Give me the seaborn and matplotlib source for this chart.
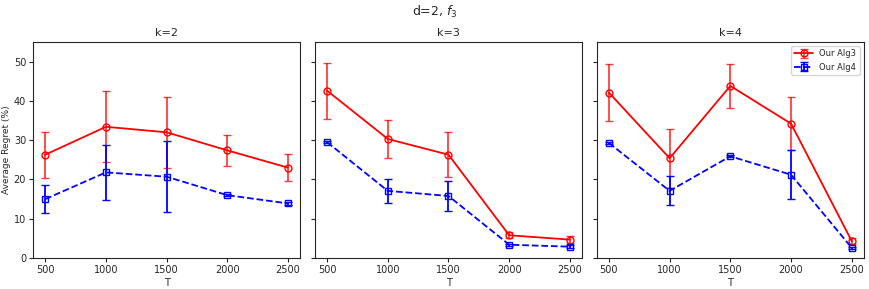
import numpy as np
import pandas as pd
import matplotlib
matplotlib.use("Agg")
import matplotlib.pyplot as plt
import seaborn as sns

# ==========================================
# Data
# ==========================================

T = [500, 1000, 1500, 2000, 2500]
panels = ["k=2", "k=3", "k=4"]

alg3_mean = [
    [26.3, 33.4, 32.0, 27.4, 23.0],
    [42.6, 30.3, 26.3, 5.8, 4.7],
    [42.1, 25.4, 43.8, 34.2, 4.3],
]
alg3_err = [
    [5.8, 9.0, 9.0, 4.0, 3.5],
    [7.1, 4.8, 5.7, 0.8, 0.8],
    [7.2, 7.5, 5.5, 6.8, 0.8],
]
alg4_mean = [
    [15.0, 21.8, 20.7, 16.0, 13.9],
    [29.5, 17.1, 15.8, 3.4, 2.9],
    [29.3, 17.1, 25.9, 21.2, 2.6],
]
alg4_err = [
    [3.6, 7.0, 9.1, 0.3, 0.3],
    [0.3, 3.0, 3.9, 0.3, 0.3],
    [0.3, 3.7, 0.3, 6.2, 0.3],
]

# ==========================================
# Plot
# ==========================================

sns.set_style("ticks")
plt.rcParams["font.family"] = ["DejaVu Sans"]
plt.rcParams["xtick.labelsize"] = 7
plt.rcParams["ytick.labelsize"] = 7

fig, axes = plt.subplots(1, 3, figsize=(8.7, 2.89), dpi=100, sharey=True)

for i, ax in enumerate(axes):
    ax.errorbar(
        T, alg3_mean[i], yerr=alg3_err[i],
        fmt="-o", color="red", fillstyle="none",
        markersize=5, linewidth=1.3, capsize=3,
        elinewidth=1.3, ecolor=(1, 0, 0, 0.75),
        label="Our Alg3"
    )
    ax.errorbar(
        T, alg4_mean[i], yerr=alg4_err[i],
        fmt="--s", color="blue", fillstyle="none",
        markersize=5, linewidth=1.3, capsize=3,
        elinewidth=1.3,
        label="Our Alg4"
    )
    ax.set_title(panels[i], fontsize=8, pad=4)
    ax.set_xlabel("T", fontsize=7, labelpad=2)
    ax.set_xticks(T)
    ax.set_xlim(400, 2600)
    ax.tick_params(length=3, pad=2)

axes[0].set_ylim(0, 55)
axes[0].set_yticks([0, 10, 20, 30, 40, 50])
axes[0].set_ylabel("Average Regret (%)", fontsize=6.5, labelpad=2)
axes[2].legend(loc="upper right", fontsize=6, handlelength=2.2)

fig.suptitle("d=2, $f_3$", fontsize=9, y=0.985)
fig.subplots_adjust(left=0.038, right=0.993, bottom=0.107, top=0.855, wspace=0.055)

plt.savefig("out.png", dpi=100)
